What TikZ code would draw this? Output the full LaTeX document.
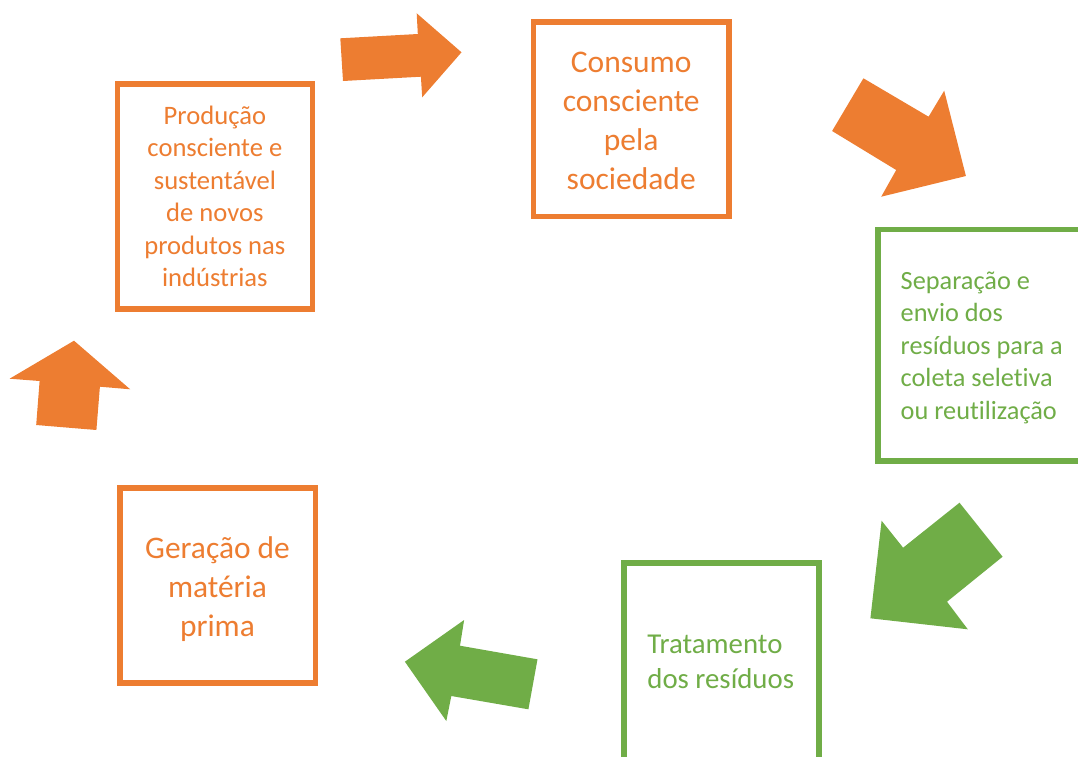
\documentclass[tikz,border=0pt]{standalone}
\usepackage{fontspec}
\setmainfont{Carlito}[Ligatures=NoCommon, Contextuals=NoAlternate]
\definecolor{orng}{HTML}{ED7D31}
\definecolor{grn}{HTML}{70AD47}
\tikzset{
  stepbox/.style={draw=#1, line width=5.5pt, inner sep=0pt, fill=white},
  boxtext/.style={inner sep=0pt, text=#1},
  blockarrow/.style={fill=#1, draw=none},
}
\begin{document}
\begin{tikzpicture}[x=1pt,y=-1pt]
\path[use as bounding box] (0,0) rectangle (1078,756);
\clip (0,0) rectangle (1078,756);

% boxes
\node[stepbox=orng, minimum width=194.8pt, minimum height=225.1pt] (prod) at (214.9,196.35) {};
\node[stepbox=orng, minimum width=195.5pt, minimum height=194.7pt] (cons) at (631.25,119.15) {};
\node[stepbox=grn, minimum width=212.2pt, minimum height=231.9pt] (sep) at (983.9,345.25) {};
\node[stepbox=grn, minimum width=195pt, minimum height=207.2pt] (trat) at (721.5,666.4) {};
\node[stepbox=orng, minimum width=195.5pt, minimum height=195.4pt] (ger) at (217.75,585.5) {};

% texts
\node[boxtext=orng, anchor=base] (tprod) at (214.9,124)
  {\parbox[t]{190pt}{\centering\fontsize{26.6}{32.5}\selectfont Produção\\consciente e\\sustentável\\de novos\\produtos nas\\indústrias}};
\node[boxtext=orng, anchor=base] (tcons) at (631.2,72)
  {\parbox[t]{190pt}{\centering\fontsize{31.5}{39}\selectfont Consumo\\consciente\\pela\\sociedade}};
\node[boxtext=grn, anchor=base west] (tsep) at (900.5,289.5)
  {\parbox[t]{175pt}{\raggedright\fontsize{26.3}{32.4}\selectfont Separação e\\envio dos\\resíduos para a\\coleta seletiva\\ou reutilização}};
\node[boxtext=grn, anchor=base west] (ttrat) at (647.2,653.3)
  {\parbox[t]{170pt}{\raggedright\fontsize{28.8}{35}\selectfont Tratamento\\dos resíduos}};
\node[boxtext=orng, anchor=base] (tger) at (217.5,558.3)
  {\parbox[t]{190pt}{\centering\fontsize{31.4}{39}\selectfont Geração de\\matéria\\prima}};

% block arrows
\fill[blockarrow=orng] (74.0,340.7) -- (130.2,389.3) -- (99.9,386.7) -- (96.4,430) -- (36.2,425) -- (39.6,381) -- (9.6,378.7) -- cycle;
\fill[blockarrow=orng] (461.5,52.3) -- (422.2,97.3) -- (420.9,76.7) -- (343,81) -- (340.3,38.3) -- (417.8,34) -- (416.7,13.3) -- cycle;
\fill[blockarrow=orng] (965.9,176) -- (881.2,196.7) -- (896.2,170) -- (832.1,131) -- (863.4,78.3) -- (928.6,116.7) -- (944.2,90.7) -- cycle;
\fill[blockarrow=grn] (870.4,618.3) -- (881.6,520.7) -- (903.1,547.7) -- (959.5,502.7) -- (1002.6,556.7) -- (947.0,601.7) -- (967.8,629.3) -- cycle;
\fill[blockarrow=grn] (404.9,661.7) -- (464.1,620) -- (460,645.7) -- (537.5,659.3) -- (528.4,709.3) -- (451.3,696) -- (446.3,721) -- cycle;
\end{tikzpicture}
\end{document}
